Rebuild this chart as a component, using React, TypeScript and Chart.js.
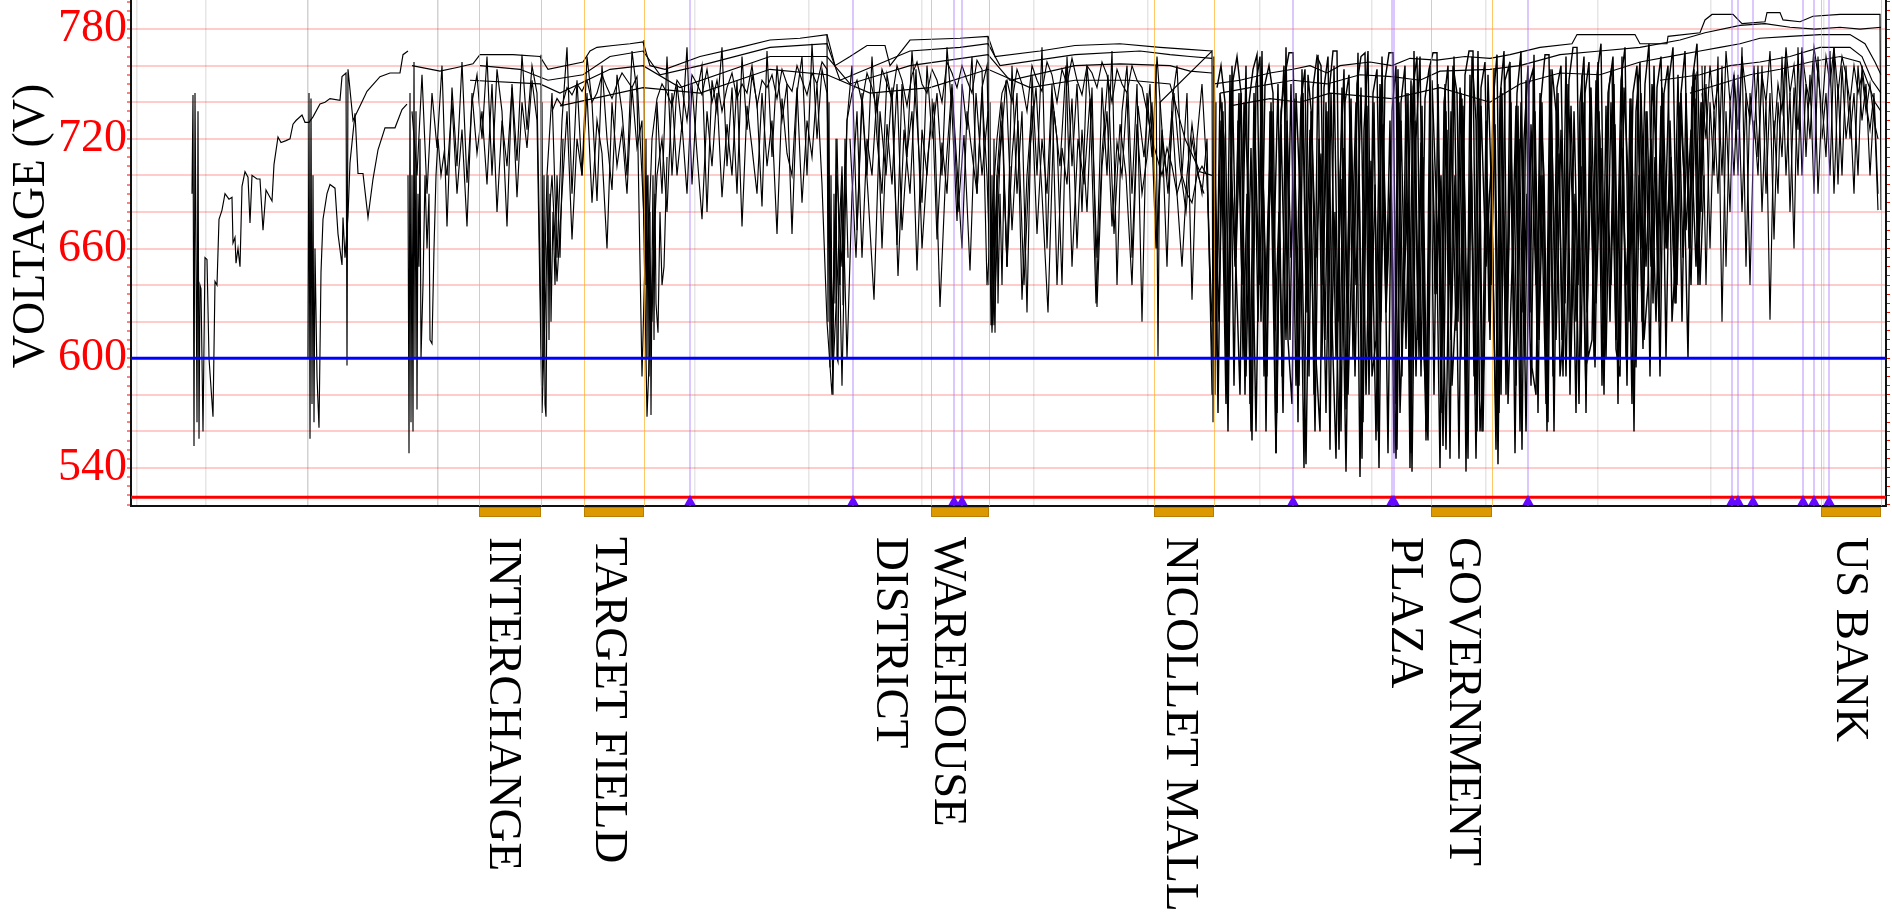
import React, { useEffect, useRef } from 'react';
import { Chart, registerables } from 'chart.js';

Chart.register(...registerables);

// ---------- axis ranges ----------
const T_MIN = 0;
const T_MAX = 1755;
const V_MIN = 519.2;
const V_MAX = 795.9;
const yLabelValues = [540, 600, 660, 720, 780];
const yTitle = 'VOLTAGE (V)';
const undervoltageLimit = 600; // blue line
const minimumLimit = 524; // red line

// vertical reference grid (time units)
const gridT = [6, 75, 177, 307, 564, 678, 791, 903, 1017, 1129, 1241, 1355, 1467, 1580, 1693];
const gridTDark = [177, 307];

// stations: start/end of platform and label anchor
const stationNames = [['INTERCHANGE'], ['TARGET FIELD'], ['WAREHOUSE', 'DISTRICT'], ['NICOLLET MALL'], ['GOVERNMENT', 'PLAZA'], ['US BANK']];
const stationStart = [348, 453, 800, 1023, 1300, 1690];
const stationEnd = [410, 513, 858, 1083, 1361, 1750];
const stationLabelT = [371, 477, 816, 1048, 1331, 1718];

// event markers (purple)
const eventT = [559, 722, 823, 831, 1162, 1261, 1263, 1397, 1601, 1607, 1622, 1672, 1683, 1698];

// ---------- voltage traces: explicit [t, V] samples ----------
const trainA: [number, number][] = [
  [61, 690], [62, 744], [63, 552], [64, 745], [65, 660], [66, 565], [67, 735], [68, 556], [69, 640], [70, 638],
  [72, 560], [74, 655], [76, 654], [78, 600], [82, 568], [84, 642], [86, 640], [88, 676], [91, 681], [94, 690],
  [98, 687], [101, 688], [102, 663], [104, 666], [105, 652], [107, 660], [109, 650], [111, 694], [114, 702], [117, 699],
  [119, 674], [121, 700], [126, 698], [129, 698], [132, 670], [135, 692], [141, 686], [143, 706], [147, 721], [150, 718],
  [155, 719], [159, 720], [162, 728], [165, 730], [171, 733], [174, 729], [178, 729], [182, 732], [189, 739], [194, 740],
  [199, 742], [209, 741], [211, 754], [215, 756], [216, 596], [217, 758], [222, 730], [229, 738], [236, 746], [249, 754],
  [259, 756], [269, 756], [272, 766], [277, 768],
];
const trainB: [number, number][] = [
  [177, 600], [178, 745], [179, 556], [180, 742], [181, 575], [182, 700], [183, 565], [184, 660], [186, 590], [188, 562],
  [190, 647], [192, 676], [196, 690], [199, 695], [204, 693], [207, 668], [211, 651], [212, 677], [214, 655], [217, 678],
  [219, 707], [224, 734], [227, 701], [232, 701], [237, 677], [242, 698], [247, 714], [254, 726], [264, 726], [271, 736],
  [276, 739],
];
const trainC: [number, number][] = [
  [277, 700], [278, 548], [279, 745], [280, 565], [281, 700], [282, 560], [283, 762], [284, 600], [285, 735], [286, 572],
  [287, 690], [288, 650], [289, 720], [290, 600], [292, 640], [294, 700], [296, 660], [298, 690], [299, 610], [301, 608],
  [303, 660], [305, 700], [307, 720], [310, 700], [313, 712], [316, 700],
];
const clusterInterchange: [number, number][] = [
  [410, 766], [410.5, 605], [411, 740], [412, 600], [413, 700], [414, 575], [415, 568], [416, 640], [417, 700], [418, 610],
  [419, 690], [420, 620], [422, 680], [424, 640], [426, 700], [429, 655], [432, 720],
];
const clusterTarget: [number, number][] = [
  [513, 774], [514, 640], [515, 720], [516, 600], [517, 700], [518, 590], [519, 680], [520, 569], [521, 650], [522, 700],
  [523, 610], [524, 690], [525, 630], [527, 614], [529, 680], [531, 640], [533, 650], [536, 710],
];
const clusterWarehouse: [number, number][] = [
  [696, 777], [697, 620], [698, 740], [699, 595], [700, 700], [701, 610], [702, 580], [703, 690], [704, 630], [705, 720],
  [706, 600], [707, 598], [708, 660], [709, 640], [711, 700], [712, 629], [714, 720], [717, 655],
];
const clusterDistrict: [number, number][] = [
  [857, 776], [858, 640], [859, 740], [860, 618], [861, 700], [862, 625], [863, 720], [864, 614], [865, 660], [866, 700],
  [867, 630], [869, 690], [871, 640], [873, 700], [876, 650], [879, 705],
];
const clusterNicollet: [number, number][] = [
  [1025, 760], [1027, 601], [1029, 740], [1081, 768], [1082, 565], [1083, 760], [1084, 580], [1085, 740],
];
const upper1: [number, number][] = [
  [281, 760], [309, 757], [326, 759], [342, 761], [349, 766], [382, 766], [409, 765], [417, 758], [452, 762], [459, 768],
  [466, 770], [482, 771], [499, 772], [512, 773], [519, 760], [534, 758], [569, 765], [609, 770], [639, 774], [669, 775],
  [696, 777], [704, 760], [719, 765], [736, 771], [754, 771], [759, 760], [779, 774], [829, 775], [857, 776], [864, 765],
  [909, 768], [944, 771], [989, 772], [1029, 770], [1054, 769], [1081, 768],
];
const upper2: [number, number][] = [
  [349, 760], [389, 758], [417, 752], [452, 755], [479, 765], [512, 768], [529, 755], [569, 760], [639, 770], [696, 772],
  [709, 752], [779, 768], [829, 770], [857, 772], [869, 760], [944, 766], [1009, 768], [1039, 766], [1059, 765], [1081, 764],
];
const upper3: [number, number][] = [
  [339, 752], [409, 750], [429, 745], [479, 758], [512, 760], [549, 748], [639, 765], [696, 765], [719, 750], [779, 760],
  [857, 766], [879, 752], [944, 760], [989, 761], [1039, 760], [1059, 757], [1081, 756],
];
const upper4: [number, number][] = [
  [429, 738], [512, 748], [569, 745], [639, 758], [696, 755], [739, 745], [799, 748], [857, 758], [899, 748], [944, 752],
  [999, 752], [1039, 750], [1054, 720], [1069, 702], [1081, 700],
];
const mid1: [number, number][] = [
  [1083, 750], [1109, 752], [1139, 756], [1162, 758], [1179, 760], [1196, 756], [1209, 760], [1239, 762], [1261, 760], [1279, 764],
  [1306, 763], [1334, 765], [1359, 764], [1379, 766], [1409, 770], [1441, 772], [1446, 777], [1504, 777], [1509, 772], [1536, 772],
  [1537, 776], [1569, 778], [1574, 785], [1581, 788], [1602, 788], [1611, 783], [1634, 784], [1636, 789], [1649, 789], [1652, 785],
  [1669, 784], [1682, 787], [1709, 788], [1749, 788], [1750, 681],
];
const mid2: [number, number][] = [
  [1089, 745], [1119, 748], [1162, 752], [1196, 750], [1229, 755], [1261, 754], [1289, 752], [1309, 757], [1359, 758], [1389, 760],
  [1429, 766], [1469, 768], [1509, 770], [1549, 774], [1574, 778], [1609, 782], [1634, 783], [1659, 781], [1684, 780], [1709, 781],
  [1729, 780], [1750, 781],
];
const mid3: [number, number][] = [
  [1099, 738], [1139, 742], [1169, 740], [1199, 745], [1261, 742], [1309, 748], [1359, 740], [1389, 750], [1429, 756], [1469, 755],
  [1509, 762], [1549, 766], [1569, 768], [1589, 770], [1609, 772], [1629, 775], [1659, 776], [1689, 777], [1719, 777], [1734, 772],
  [1744, 762], [1750, 755],
];
const right4: [number, number][] = [
  [1529, 752], [1569, 755], [1599, 760], [1629, 762], [1659, 765], [1689, 770], [1719, 770], [1731, 765], [1741, 752], [1750, 745],
];
const right5: [number, number][] = [
  [1559, 745], [1589, 750], [1619, 755], [1649, 758], [1679, 762], [1709, 765], [1729, 762], [1744, 740], [1750, 735],
];

// ---------- voltage traces: evenly sampled logs ----------
const midStep = 5;
const midNoiseAStart = 281;
const midNoiseA = [
  735, 700, 755, 690, 745, 715,
  760, 672, 748, 705, 762, 696, 740, 755, 720, 765, 700, 758, 735, 672, 750, 708, 766, 725, 760, 745,
  585, 700,
  745, 655, 730, 770, 690, 752, 700, 765, 740, 686, 760, 720, 692, 755, 735, 700, 768, 745,
  590, 700, 620,
  740, 690, 765, 700, 750, 725, 770, 695, 745, 760, 680, 752, 735, 770, 705, 748, 690, 765, 725, 755, 740, 683, 768, 710, 760, 730, 750, 668, 745, 765, 700, 772, 720, 758, 745,
  600, 720, 585,
  730, 760, 670, 745, 700, 765, 720, 690, 755, 740, 662, 750, 710, 768, 730, 685, 760, 720, 745, 700, 770, 735, 675, 750, 725, 765, 690, 748, 760,
  618, 700,
  740, 650, 760, 690, 735, 625, 755, 700, 770, 660, 745, 720, 640, 765, 705, 750, 680, 760, 730, 655, 748, 700, 768, 640, 735, 760, 690, 750, 620, 745, 710, 765, 725, 650, 740, 760, 700, 745, 632, 720, 750, 700, 600,
];
const midNoiseBStart = 316;
const midNoiseB = [
  700, 740, 690, 725, 672, 745, 712, 735, 695, 750, 680, 730, 705, 748, 688, 740, 715, 752, 730,
  570, 660,
  700, 642, 690, 735, 665, 720, 700, 745, 685, 730, 712, 660, 740, 705, 725, 690, 748, 715, 730,
  568, 640, 700,
  720, 680, 745, 700, 728, 690, 750, 712, 676, 735, 705, 745, 688, 728, 700, 752, 672, 738, 715, 690, 745, 705, 730, 668, 742, 712, 700, 748, 685, 730, 710, 750, 695, 620, 580,
  640, 705, 600,
  690, 735, 655, 720, 700, 745, 660, 728, 695, 750, 670, 712, 735, 648, 725, 700, 742, 665, 718, 690, 748, 705, 660, 735, 712, 690, 745, 700, 614, 690,
  730, 650, 710, 745, 632, 700, 738, 668, 720, 690, 750, 640, 715, 695, 742, 660, 725, 680, 748, 628, 705, 735, 672, 718, 700, 745, 655, 728, 690, 710, 740, 660, 720, 700, 735, 690, 650, 700, 728, 705, 690, 720, 580,
];
const midNoiseCStart = 421;
const midNoiseC = [
  735, 742, 738, 748, 744, 750, 746, 752, 740, 745, 755, 748, 742, 750, 756, 752, 748, 754,
  700, 640, 720,
  742, 750, 745, 738, 752, 748, 730, 755, 750, 744, 758, 740, 752, 735, 748, 756, 742, 750, 745, 760, 738, 752, 748, 755, 742, 758, 750, 746, 760, 752, 744, 756, 750, 762, 758,
  620, 700, 650,
  730, 745, 752, 740, 756, 748, 735, 758, 750, 742, 760, 752, 738, 755, 762, 750, 745, 758, 752, 740, 762, 756, 748, 760, 752, 745, 763, 758, 640,
  680, 720, 745, 752, 740, 758, 750, 735, 760, 752, 746, 762, 755, 740, 758, 750, 764, 752, 744, 760, 756, 748, 762, 755, 740, 758, 750, 745, 760, 752, 748, 735, 720, 710, 700, 715, 705, 690, 700, 690, 685, 700, 705, 700,
  620,
];
const midNoiseDStart = 719;
const midNoiseDStep = 6;
const midNoiseD = [
  720, 655, 740, 690, 632, 735, 700, 748, 645, 725,
  690, 758, 660, 712, 740, 628, 705, 750, 680, 722,
  648, 745, 700, 735, 618, 710, 752, 670, 730, 640,
  715, 748, 690, 625, 735, 705, 760, 650, 720, 695,
  742, 630, 712, 755, 668, 728, 700, 640, 738, 710,
  750, 660, 725, 690, 745, 705, 680, 720, 700, 690,
];

const denseStep = 4;
const denseAStart = 1083;
const denseA = [
  765, 570, 740, 600, 755, 585, 730, 640, 760, 575, 745, 620, 768, 560, 735, 660, 750, 590, 770, 610,
  742, 565, 758, 640, 725, 580, 766, 600, 740, 550, 760, 620, 748, 572, 735, 650, 767, 545, 752, 600,
  740, 560, 765, 630, 730, 548, 758, 590, 745, 540, 768, 610, 738, 555, 760, 580, 750, 600, 735, 545,
  765, 620, 742, 538, 755, 590, 768, 560, 730, 610, 758, 542, 745, 580, 762, 600, 738, 550, 752, 625,
  766, 570, 740, 590, 758, 560, 745, 610, 765, 580, 735, 640, 755, 570, 748, 600, 762, 585, 738, 620,
  750, 575, 765, 600, 742, 560, 755, 620, 735, 590, 760, 640, 748, 600, 730, 650, 755, 620, 745, 660,
  758, 640, 740,
];
const denseBStart = 1085;
const denseB = [
  600, 745, 720, 560, 760, 650, 580, 740, 700, 555, 750, 765, 590, 680, 735, 548, 720, 760, 610, 575,
  745, 690, 540, 755, 730, 600, 560, 748, 765, 620, 545, 700, 758, 580, 660, 740, 535, 725, 768, 590,
  610, 750, 700, 548, 735, 760, 570, 640, 745, 538, 720, 765, 600, 555, 752, 690, 540, 740, 760, 585,
  630, 748, 710, 545, 765, 730, 560, 600, 755, 680, 550, 742, 768, 575, 650, 738, 560, 720, 760, 595,
  580, 745, 700, 565, 758, 735, 590, 620, 750, 690, 570, 740, 765, 600, 610, 752, 720, 580, 745, 760,
  605, 590, 748, 700, 575, 735, 762, 610, 640, 750, 720, 590, 745, 760, 620, 660, 740, 700, 600, 748,
  755, 640, 700,
];
const denseCStart = 1084;
const denseC = [
  700, 620, 735, 580, 710, 650, 745, 600, 690, 560, 725, 640, 700, 590, 740, 615, 680, 570, 730, 655,
  705, 585, 745, 625, 690, 560, 720, 640, 735, 600, 680, 550, 715, 630, 742, 590, 700, 565, 738, 610,
  695, 540, 728, 645, 705, 575, 740, 620, 685, 548, 730, 600, 710, 560, 745, 635, 690, 552, 725, 610,
  700, 545, 738, 620, 715, 580, 742, 560, 698, 640, 728, 570, 705, 600, 740, 548, 720, 625, 690, 585,
  735, 610, 700, 560, 745, 640, 712, 590, 730, 600, 690, 575, 740, 625, 705, 595, 735, 610, 700, 640,
  728, 600, 715, 585, 742, 630, 700, 605, 735, 650, 710, 620, 745, 660, 700, 630, 738, 655, 720, 640,
  742, 660, 735,
];
const denseDStart = 1086;
const denseD = [
  748, 760, 740, 600, 752, 765, 745, 580, 740, 758, 766, 620, 750, 760, 745, 570, 735, 755, 767, 767,
  640, 742, 758, 590, 748, 765, 760, 610, 745, 768, 768, 560, 740, 755, 600, 750, 765, 767, 580, 745,
  758, 620, 752, 767, 767, 550, 740, 760, 600, 748, 765, 590, 742, 758, 767, 767, 570, 750, 640, 760,
  745, 600, 755, 768, 768, 560, 748, 762, 620, 740, 766, 580, 752, 760, 640, 745, 768, 600, 750, 758,
  610, 742, 766, 766, 590, 748, 760, 630, 752, 770, 770, 600, 745, 762, 650, 755, 772, 610, 748, 765,
  640, 752, 770, 620, 745, 760, 660, 750, 772, 630, 748, 765, 670, 752, 770, 640, 745, 768, 660, 755,
  772, 680, 760,
];
const denseEStart = 1085;
const denseEStep = 5;
const denseE = [
  620, 730, 575, 700, 655, 745, 590, 715, 560, 738,
  640, 705, 548, 728, 610, 750, 585, 690, 542, 735,
  655, 712, 570, 745, 600, 698, 538, 725, 640, 748,
  580, 708, 555, 740, 625, 695, 545, 730, 605, 752,
  590, 718, 560, 742, 635, 700, 550, 735, 615, 745,
  575, 722, 545, 738, 650, 705, 565, 748, 600, 715,
  585, 740, 560, 728, 640, 700, 575, 745, 610, 725,
  590, 738, 620, 705, 580, 748, 630, 715, 600, 740,
  610, 725, 640, 700, 595, 745, 650, 720, 620, 738,
  660, 710, 630, 745, 670, 725, 650, 740,
];

const rightStep = 4;
const rightNoiseStart = 1571;
const rightNoiseA = [
  760, 640, 740, 700, 765, 620, 735, 680, 755, 700, 770, 650, 745, 720, 760, 680, 740, 621, 730, 690,
  765, 700, 745, 660, 770, 700, 750, 720, 765, 690, 740, 710, 768, 690, 750, 700, 760, 720, 745, 700,
  760, 740, 725, 745, 690,
];
const rightNoiseB = [
  700, 750, 660, 735, 690, 760, 650, 740, 700, 755, 680, 745, 640, 730, 700, 760, 690, 745, 665, 740,
  710, 765, 680, 748, 700, 770, 710, 755, 690, 765, 720, 745, 700, 770, 695, 760, 720, 740, 690, 760,
  730, 750, 700, 740, 681,
];
const rightNoiseC = [
  745, 720, 760, 735, 750, 700, 768, 740, 755, 725, 765, 745, 730, 760, 710, 755, 740, 768, 720, 750,
  735, 770, 745, 760, 725, 768, 750, 740, 770, 755, 735, 765, 750, 770, 745, 765, 755, 740, 760, 745,
  755, 735, 750, 730, 720,
];

// ---------- build helpers ----------
const fromPairs = (pairs: [number, number][]) => pairs.map(([x, y]) => ({ x, y }));
const fromSamples = (start: number, step: number, values: number[]) => values.map((y, i) => ({ x: start + i * step, y }));

const FONT = '"Liberation Serif", "Times New Roman", serif';

const yTicks: number[] = [];
for (let v = 520; v <= 795; v += 5) yTicks.push(v);

const overlayPlugin = {
  id: 'overlays',
  afterDatasetsDraw(chart: any) {
    const { ctx, chartArea: a, scales } = chart;
    const x = scales.x;
    const y = scales.y;
    ctx.save();
    ctx.beginPath();
    ctx.rect(a.left, a.top, a.right - a.left, a.bottom - a.top + 1);
    ctx.clip();
    ctx.strokeStyle = 'rgba(255,175,40,0.7)';
    ctx.lineWidth = 1;
    const edges = [...stationStart, ...stationEnd];
    for (const t of edges) {
      const px = Math.round(x.getPixelForValue(t)) + 0.5;
      ctx.beginPath();
      ctx.moveTo(px, a.top);
      ctx.lineTo(px, a.bottom);
      ctx.stroke();
    }
    ctx.strokeStyle = 'rgba(160,110,255,0.5)';
    ctx.lineWidth = 1.5;
    for (const t of eventT) {
      const px = x.getPixelForValue(t);
      ctx.beginPath();
      ctx.moveTo(px, a.top);
      ctx.lineTo(px, a.bottom);
      ctx.stroke();
    }
    ctx.lineWidth = 3;
    ctx.strokeStyle = '#0000ff';
    let py = y.getPixelForValue(undervoltageLimit);
    ctx.beginPath();
    ctx.moveTo(a.left, py);
    ctx.lineTo(a.right, py);
    ctx.stroke();
    ctx.strokeStyle = '#ff0000';
    py = y.getPixelForValue(minimumLimit);
    ctx.beginPath();
    ctx.moveTo(a.left, py);
    ctx.lineTo(a.right, py);
    ctx.stroke();
    ctx.fillStyle = 'rgb(100,10,255)';
    for (const t of eventT) {
      const px = x.getPixelForValue(t);
      ctx.beginPath();
      ctx.moveTo(px - 5.5, a.bottom - 1);
      ctx.lineTo(px + 5.5, a.bottom - 1);
      ctx.lineTo(px, a.bottom - 11);
      ctx.closePath();
      ctx.fill();
    }
    ctx.restore();
  },
  afterDraw(chart: any) {
    const { ctx, chartArea: a, scales } = chart;
    const x = scales.x;
    ctx.save();
    for (let i = 0; i < stationStart.length; i++) {
      const x1 = x.getPixelForValue(stationStart[i]);
      const x2 = x.getPixelForValue(stationEnd[i]);
      ctx.fillStyle = 'rgb(221,153,0)';
      ctx.fillRect(x1, a.bottom + 1, x2 - x1, 10);
      ctx.strokeStyle = 'rgb(185,125,0)';
      ctx.lineWidth = 1;
      ctx.strokeRect(x1 + 0.5, a.bottom + 1.5, x2 - x1 - 1, 9);
    }
    ctx.fillStyle = '#000';
    ctx.font = `47px ${FONT}`;
    ctx.textAlign = 'left';
    ctx.textBaseline = 'middle';
    for (let i = 0; i < stationNames.length; i++) {
      const px = x.getPixelForValue(stationLabelT[i]);
      ctx.save();
      ctx.translate(px, a.bottom + 31);
      ctx.rotate(Math.PI / 2);
      stationNames[i].forEach((line, j) => ctx.fillText(line, 0, j * 58));
      ctx.restore();
    }
    ctx.save();
    ctx.translate(32, 226);
    ctx.rotate(-Math.PI / 2);
    ctx.font = `46px ${FONT}`;
    ctx.textAlign = 'center';
    ctx.textBaseline = 'middle';
    ctx.fillStyle = '#000';
    ctx.fillText(yTitle, 0, 0);
    ctx.restore();
    ctx.restore();
  },
};

function buildChart(canvas: HTMLCanvasElement) {
  const thin = [
    fromPairs(trainA), fromPairs(trainB), fromPairs(trainC),
    fromPairs(clusterInterchange), fromPairs(clusterTarget), fromPairs(clusterWarehouse), fromPairs(clusterDistrict), fromPairs(clusterNicollet),
    fromPairs(upper1), fromPairs(upper2), fromPairs(upper3), fromPairs(upper4),
    fromPairs(mid1), fromPairs(mid2), fromPairs(mid3), fromPairs(right4), fromPairs(right5),
    fromSamples(midNoiseAStart, midStep, midNoiseA),
    fromSamples(midNoiseBStart, midStep, midNoiseB),
    fromSamples(midNoiseCStart, midStep, midNoiseC),
    fromSamples(midNoiseDStart, midNoiseDStep, midNoiseD),
    fromSamples(rightNoiseStart, rightStep, rightNoiseA),
    fromSamples(rightNoiseStart, rightStep, rightNoiseB),
    fromSamples(rightNoiseStart, rightStep, rightNoiseC),
  ];
  const dense = [
    fromSamples(denseAStart, denseStep, denseA),
    fromSamples(denseBStart, denseStep, denseB),
    fromSamples(denseCStart, denseStep, denseC),
    fromSamples(denseDStart, denseStep, denseD),
    fromSamples(denseEStart, denseEStep, denseE),
  ];
  const mk = (d: any, w: number) => ({ data: d, borderColor: '#000', borderWidth: w, pointRadius: 0, fill: false, tension: 0 });
  return new Chart(canvas, {
    type: 'line',
    data: { datasets: [...thin.map((d) => mk(d, 1.15)), ...dense.map((d) => mk(d, 1.45))] },
    plugins: [overlayPlugin],
    options: {
      animation: false,
      responsive: false,
      maintainAspectRatio: false,
      events: [],
      layout: { padding: 0 },
      plugins: { legend: { display: false }, tooltip: { enabled: false }, title: { display: false } },
      scales: {
        x: {
          type: 'linear',
          min: T_MIN,
          max: T_MAX,
          bounds: 'data',
          position: 'bottom',
          afterBuildTicks: (s: any) => { s.ticks = gridT.map((v) => ({ value: v })); },
          ticks: { display: false },
          grid: {
            color: (c: any) => (gridTDark.includes(c.tick?.value) ? '#d2d2d2' : '#e6e6e6'),
            lineWidth: 1.5,
            drawTicks: false,
          },
          border: { display: true, color: '#111', width: 2 },
          afterFit: (s: any) => { s.height = 412; s.paddingLeft = 0; s.paddingRight = 0; },
        },
        y: {
          type: 'linear',
          min: V_MIN,
          max: V_MAX,
          bounds: 'data',
          position: 'left',
          afterBuildTicks: (s: any) => { s.ticks = yTicks.map((v) => ({ value: v })); },
          ticks: {
            autoSkip: false,
            padding: 0,
            color: '#ff0000',
            font: { family: FONT, size: 46, lineHeight: 1.2 },
            callback: (v: any) => (yLabelValues.includes(Number(v)) ? String(v) : ''),
          },
          grid: {
            color: (c: any) => (c.tick && c.tick.value % 20 === 0 && c.tick.value >= 540 ? 'rgba(255,0,0,0.2)' : 'rgba(0,0,0,0)'),
            lineWidth: 2,
            drawTicks: true,
            tickLength: 4,
            tickColor: '#ff0000',
            tickWidth: 1,
          },
          border: { display: true, color: '#111', width: 2 },
          afterFit: (s: any) => { s.width = 131; s.paddingTop = 0; s.paddingBottom = 0; },
        },
        y2: {
          type: 'linear',
          min: V_MIN,
          max: V_MAX,
          bounds: 'data',
          position: 'right',
          afterBuildTicks: (s: any) => { s.ticks = yTicks.map((v) => ({ value: v })); },
          ticks: { display: false },
          grid: { drawOnChartArea: false, drawTicks: true, tickLength: 4, tickColor: '#ff0000', tickWidth: 1 },
          border: { display: true, color: '#111', width: 2 },
          afterFit: (s: any) => { s.width = 6; s.paddingTop = 0; s.paddingBottom = 0; },
        },
      },
    } as any,
  });
}

export default function App() {
  const ref = useRef<HTMLCanvasElement>(null);
  useEffect(() => {
    document.body.style.margin = '0';
    let chart: Chart | null = null;
    let cancelled = false;
    const make = () => {
      if (cancelled || !ref.current) return;
      chart = buildChart(ref.current);
    };
    const fontsApi: any = (document as any).fonts;
    if (fontsApi && fontsApi.load) {
      Promise.all([fontsApi.load(`47px ${FONT}`)]).then(make, make);
    } else {
      make();
    }
    return () => {
      cancelled = true;
      if (chart) chart.destroy();
    };
  }, []);
  return (
    <div style={{ position: 'fixed', left: 0, top: 0, width: 1892, height: 918, background: '#fff' }}>
      <canvas ref={ref} width={1892} height={918} style={{ display: 'block', width: 1892, height: 918 }} />
    </div>
  );
}
